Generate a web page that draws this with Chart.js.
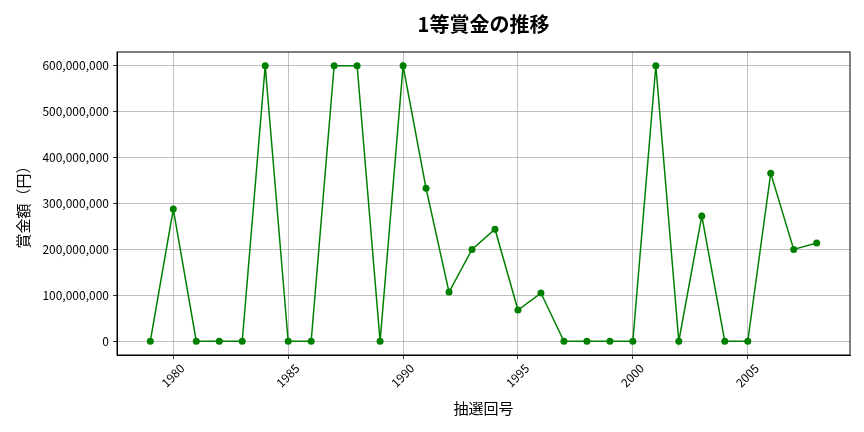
<!DOCTYPE html>
<html>
<head>
<meta charset="utf-8">
<script src="https://cdn.jsdelivr.net/npm/chart.js@4.4.0/dist/chart.umd.min.js"></script>
<style>
  html, body { margin: 0; padding: 0; background: #fff; }
  #chart { display: block; }
</style>
</head>
<body>
<canvas id="chart" width="864" height="432"></canvas>
<script>
// 抽選回号と1等賞金（円）
const years = [1979, 1980, 1981, 1982, 1983, 1984, 1985, 1986, 1987, 1988,
               1989, 1990, 1991, 1992, 1993, 1994, 1995, 1996, 1997, 1998,
               1999, 2000, 2001, 2002, 2003, 2004, 2005, 2006, 2007, 2008];
const prizes = [0, 288000000, 0, 0, 0, 600000000, 0, 0, 600000000, 600000000,
                0, 600000000, 333000000, 107000000, 200000000, 244000000, 68000000, 105000000, 0, 0,
                0, 0, 600000000, 0, 273000000, 0, 0, 366000000, 200000000, 214000000];
const xTicks = [1980, 1985, 1990, 1995, 2000, 2005];
const yTicks = [0, 100000000, 200000000, 300000000, 400000000, 500000000, 600000000];

const FONT = "'Noto Sans CJK JP', 'Noto Sans', sans-serif";

const points = years.map((y, i) => ({ x: y, y: prizes[i] }));

new Chart(document.getElementById('chart'), {
    type: 'line',
    data: {
        datasets: [{
            data: points,
            borderColor: '#008000',
            backgroundColor: '#008000',
            borderWidth: 1.5,
            pointRadius: 3.5,
            pointHoverRadius: 3.5,
            pointBorderWidth: 0,
            tension: 0
        }]
    },
    options: {
        responsive: false,
        animation: false,
        layout: { padding: { left: 0, right: 14, top: 0, bottom: 0 } },
        plugins: {
            legend: { display: false },
            tooltip: { enabled: false },
            title: {
                display: true,
                fullSize: false,   // プロット領域の中央に置く
                text: '1等賞金の推移',
                color: '#000',
                font: { family: FONT, size: 20, weight: 'bold' },
                padding: { top: 12, bottom: 16 }
            }
        },
        scales: {
            x: {
                type: 'linear',
                min: 1977.55,
                max: 2009.45,
                afterBuildTicks: s => { s.ticks = xTicks.map(v => ({ value: v })); },
                afterFit: s => { s.height = 77; },
                grid: {
                    color: '#b0b0b0',
                    lineWidth: 0.8,
                    drawTicks: true,
                    tickLength: 4,
                    tickColor: '#000'
                },
                border: { color: '#000', width: 1 },
                ticks: {
                    color: '#000',
                    font: { family: FONT, size: 12 },
                    minRotation: 45,
                    maxRotation: 45,
                    labelOffset: 9,
                    padding: 2,
                    callback: v => String(v)
                },
                title: {
                    display: true,
                    text: '抽選回号',
                    color: '#000',
                    font: { family: FONT, size: 15 },
                    padding: { top: 4, bottom: 15 }
                }
            },
            y: {
                min: -30000000,
                max: 630000000,
                afterBuildTicks: s => { s.ticks = yTicks.map(v => ({ value: v })); },
                afterFit: s => { s.width = 117; },
                grid: {
                    color: '#b0b0b0',
                    lineWidth: 0.8,
                    drawTicks: true,
                    tickLength: 4,
                    tickColor: '#000'
                },
                border: { color: '#000', width: 1 },
                ticks: {
                    color: '#000',
                    font: { family: FONT, size: 12 },
                    padding: 4,
                    callback: v => v.toLocaleString('en-US')
                },
                title: {
                    display: true,
                    text: '賞金額（円）',
                    color: '#000',
                    font: { family: FONT, size: 15 },
                    padding: { top: 14, bottom: 4 }
                }
            }
        }
    },
    plugins: [{
        // 上と右の枠線
        id: 'frame',
        afterDraw(chart) {
            const a = chart.chartArea, c = chart.ctx;
            c.save();
            c.strokeStyle = '#000';
            c.lineWidth = 1;
            c.strokeRect(a.left, a.top, a.right - a.left, a.bottom - a.top);
            c.restore();
        }
    }]
});
</script>
</body>
</html>
